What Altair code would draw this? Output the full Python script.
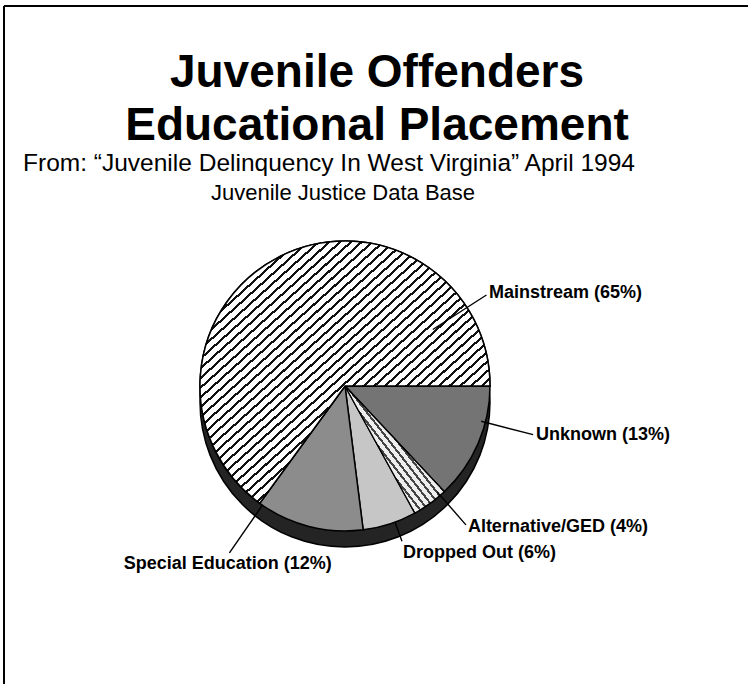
import math
import altair as alt
import pandas as pd

# ---------------- data ----------------
categories = ["Unknown", "Alternative/GED", "Dropped Out", "Special Education", "Mainstream"]
percents = [13, 4, 6, 12, 65]
title_lines = ["Juvenile Offenders", "Educational Placement"]
subtitle_line1 = "From: \u201cJuvenile Delinquency In West Virginia\u201d April 1994"
subtitle_line2 = "Juvenile Justice Data Base"

# ---------------- layout / style ----------------
W, H = 748, 684
CX, CY = 345, 386
R = 145
DEPTH = 16
slice_colors = ["#747474", "#d4d4d4", "#c6c6c6", "#8c8c8c", "#ffffff"]
leader_frac = [0.31, 0.15, 0.40, 0.97, 0.86]   # where along each slice the leader sits
leader_in = [0.97, 0.97, 1.0, 1.0, 0.72]       # inner end of leader (x R)
leader_out = [1.34, 1.27, 1.14, 1.40, 1.16]    # outer end of leader (x R)
label_align = ["left", "left", "left", "center", "left"]
label_base = ["middle", "middle", "top", "top", "middle"]
LABEL_FONT = "'Liberation Sans', Arial, Helvetica, sans-serif"
TITLE_FONT = "'Liberation Sans', Arial, Helvetica, sans-serif"

df = pd.DataFrame({
    "category": categories,
    "percent": percents,
    "order": list(range(len(categories))),
    "frac": leader_frac,
    "rin": [f * R for f in leader_in],
    "rout": [f * R for f in leader_out],
    "align": label_align,
    "lbase": label_base,
    "label": [f"{c}  ({p}%)" for c, p in zip(categories, percents)],
})

theta_scale = alt.Scale(domain=[0, 100], range=[math.pi / 2, math.pi / 2 + 2 * math.pi])

base = (
    alt.Chart(df)
    .transform_window(cum_end="sum(percent)", sort=[alt.SortField("order")], frame=[None, 0])
    .transform_calculate(cum_start="datum.cum_end - datum.percent")
    .transform_calculate(lab_pos="datum.cum_start + datum.frac * datum.percent")
    .transform_calculate(rtxt="datum.rout + 3")
)

center = dict(x=alt.value(CX), y=alt.value(CY))


def stripes(n, dark, light, w):
    stops = []
    for k in range(n):
        a = k / n
        b = (k + w) / n
        c = (k + 1) / n
        stops += [
            {"offset": a, "color": dark},
            {"offset": b, "color": dark},
            {"offset": b, "color": light},
            {"offset": c, "color": light},
        ]
    return stops


one = alt.Chart(pd.DataFrame({"k": [0]}))

# 3-D side of the pie (a full disk pushed down under the top face)
side = one.mark_arc(
    radius=R, theta=0, theta2=2 * math.pi, fill="#242424", stroke="black", strokeWidth=1.5
).encode(x=alt.value(CX), y=alt.value(CY + DEPTH))

top = base.mark_arc(radius=R, stroke="black", strokeWidth=1.5).encode(
    theta=alt.Theta("cum_start:Q", scale=theta_scale),
    theta2="cum_end:Q",
    color=alt.Color("category:N", scale=alt.Scale(domain=categories, range=slice_colors), legend=None),
    **center,
)

hatch_main = base.transform_filter(alt.datum.category == "Mainstream").mark_arc(
    radius=R,
    stroke="black",
    strokeWidth=1.5,
    fill={"gradient": "linear", "x1": 0, "y1": 0, "x2": 1, "y2": 1,
          "stops": stripes(54, "#111111", "#ffffff", 0.3)},
).encode(
    theta=alt.Theta("cum_start:Q", scale=theta_scale),
    theta2="cum_end:Q",
    **center,
)

hatch_alt = base.transform_filter(alt.datum.category == "Alternative/GED").mark_arc(
    radius=R,
    stroke="black",
    strokeWidth=1.2,
    fill={"gradient": "linear", "x1": 0, "y1": 1, "x2": 1, "y2": 0,
          "stops": stripes(26, "#444444", "#eeeeee", 0.35)},
).encode(
    theta=alt.Theta("cum_start:Q", scale=theta_scale),
    theta2="cum_end:Q",
    **center,
)

# leader lines: zero-width arcs give radial segments
leaders = base.mark_arc(stroke="black", strokeWidth=1.4, fillOpacity=0).encode(
    theta=alt.Theta("lab_pos:Q", scale=theta_scale),
    theta2="lab_pos:Q",
    radius=alt.Radius("rout:Q", scale=None),
    radius2="rin:Q",
    **center,
)

label_layers = []
for a, b in sorted(set(zip(label_align, label_base))):
    label_layers.append(
        base.transform_filter(f"datum.align == '{a}' && datum.lbase == '{b}'")
        .mark_text(align=a, baseline=b, font=LABEL_FONT, fontSize=18, fontWeight="bold", color="black")
        .encode(
            theta=alt.Theta("lab_pos:Q", scale=theta_scale),
            radius=alt.Radius("rtxt:Q", scale=None),
            text="label:N",
            **center,
        )
    )

title = one.mark_text(
    font=TITLE_FONT, fontSize=46, fontWeight="bold", align="center", baseline="alphabetic",
    lineHeight=53, color="black",
).encode(text=alt.value(title_lines), x=alt.value(377), y=alt.value(87))

sub1 = one.mark_text(
    font=TITLE_FONT, fontSize=24.5, align="center", baseline="alphabetic", color="black",
).encode(text=alt.value(subtitle_line1), x=alt.value(329), y=alt.value(171))

sub2 = one.mark_text(
    font=TITLE_FONT, fontSize=22, align="center", baseline="alphabetic", color="black",
).encode(text=alt.value(subtitle_line2), x=alt.value(343), y=alt.value(200))

frame_top = one.mark_rule(color="black", strokeWidth=2).encode(
    x=alt.value(4), x2=alt.value(W), y=alt.value(6)
)
frame_left = one.mark_rule(color="black", strokeWidth=2).encode(
    x=alt.value(4), y=alt.value(6), y2=alt.value(H)
)

chart = (
    alt.layer(frame_top, frame_left, title, sub1, sub2, side, top, hatch_main, hatch_alt,
              leaders, *label_layers)
    .properties(width=W, height=H, autosize="none", padding=0, background="white")
    .configure_view(stroke=None)
)

chart.save("out.html", embed_options={"renderer": "svg", "actions": False})
